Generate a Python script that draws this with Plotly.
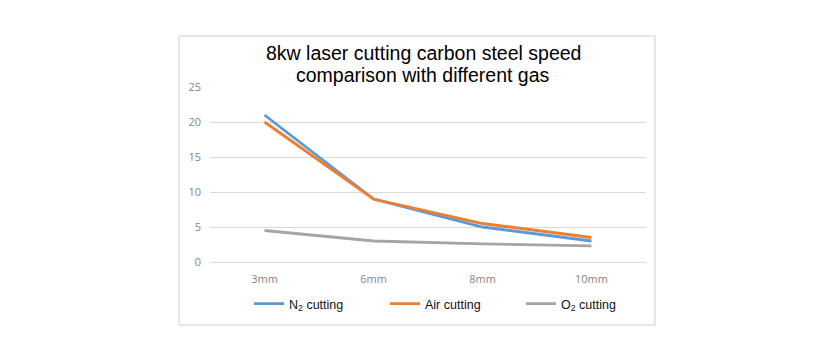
import plotly.graph_objects as go

categories = ["3mm", "6mm", "8mm", "10mm"]
n2_cutting = [21, 9, 5, 3]
air_cutting = [20, 9, 5.5, 3.5]
o2_cutting = [4.5, 3, 2.6, 2.3]
y_ticks = [0, 5, 10, 15, 20, 25]
title_lines = ["8kw laser cutting carbon steel speed", "comparison with different gas"]

W, H = 840, 350
L, R, T, B = 210, 646, 87, 262
pw, ph = R - L, B - T

def px(x):
    return (x - L) / pw

def py(y):
    return (B - y) / ph

fig = go.Figure()
series = [
    ("N<sub>2</sub> cutting", n2_cutting, "#5B9BD5"),
    ("Air cutting", air_cutting, "#ED7D31"),
    ("O<sub>2</sub> cutting", o2_cutting, "#A5A5A5"),
]
for name, vals, col in series:
    fig.add_trace(go.Scatter(x=categories, y=vals, mode="lines", name=name,
                             line=dict(color=col, width=2.8)))

fig.update_layout(
    width=W, height=H,
    margin=dict(l=L, r=W - R, t=T, b=H - B, pad=0),
    paper_bgcolor="white", plot_bgcolor="white",
    showlegend=True,
    legend=dict(orientation="h", x=px(249), xanchor="left", y=py(304), yanchor="middle",
                font=dict(family="Liberation Sans, Arial", size=12.5, color="#111111"),
                entrywidth=91, entrywidthmode="pixels", bgcolor="rgba(0,0,0,0)",
                itemwidth=30, tracegroupgap=0),
    xaxis=dict(type="category", range=[-0.5, 3.5], showgrid=False, showline=False,
               zeroline=False, ticks="", ticklabelstandoff=9,
               tickfont=dict(family="Open Sans", size=11, color="#858585")),
    yaxis=dict(range=[0, 25], tickvals=y_ticks, showgrid=True, gridcolor="#d9d9d9",
               gridwidth=1, zeroline=True, zerolinecolor="#d9d9d9", zerolinewidth=1,
               showline=False, ticks="", ticklabelstandoff=8,
               tickfont=dict(family="Open Sans", size=11, color="#858585")),
    shapes=[dict(type="rect", xref="paper", yref="paper",
                 x0=px(179), x1=px(655), y0=py(325), y1=py(36),
                 line=dict(color="#d0d0d0", width=1), layer="below")],
)
for i, t in enumerate(title_lines):
    fig.add_annotation(text=t, xref="paper", yref="paper", x=px(423), y=py(53.5 + 21.5 * i),
                       xanchor="center", yanchor="middle", showarrow=False,
                       font=dict(family="Liberation Sans, Arial", size=19.5, color="#000000"))

fig.write_html("out.html")
